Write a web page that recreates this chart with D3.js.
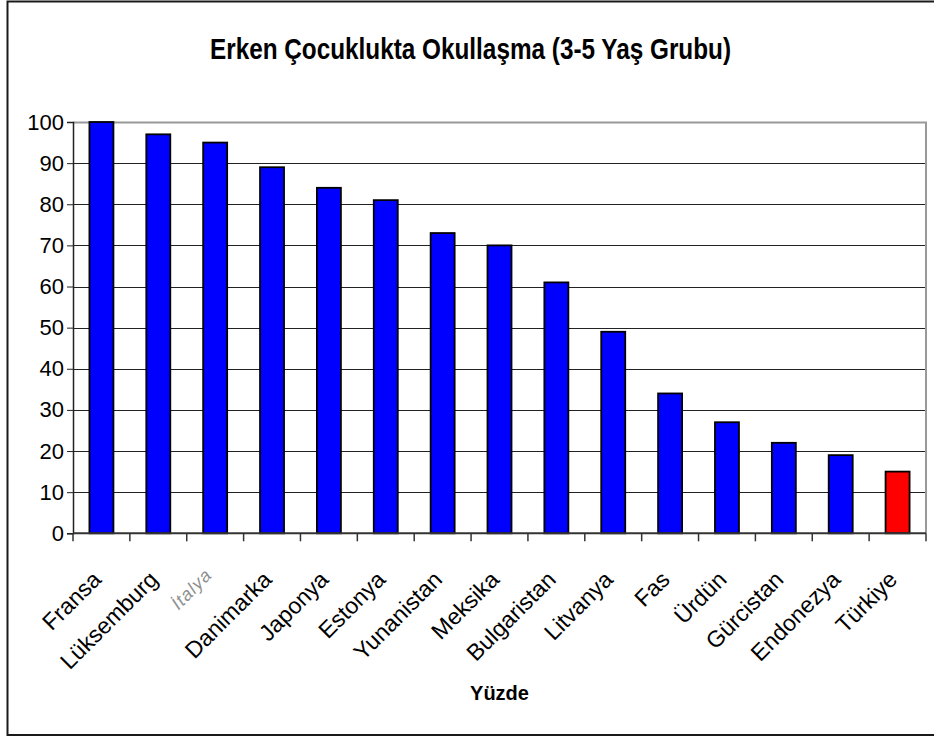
<!DOCTYPE html>
<html>
<head>
<meta charset="utf-8">
<script src="https://cdn.jsdelivr.net/npm/d3@7"></script>
<style>
  html, body { margin: 0; padding: 0; background: #fff; }
  svg { display: block; font-family: "Liberation Sans", Arial, sans-serif; }
</style>
</head>
<body>
<main><div id="svg-container"></div></main>
<script>
/** Chart data */
const countries = ["Fransa", "Lüksemburg", "İtalya", "Danimarka", "Japonya", "Estonya", "Yunanistan",
  "Meksika", "Bulgaristan", "Litvanya", "Fas", "Ürdün", "Gürcistan", "Endonezya", "Türkiye"];
const enrolment = [100, 97, 95, 89, 84, 81, 73, 70, 61, 49, 34, 27, 22, 19, 15];
const yTicks = [0, 10, 20, 30, 40, 50, 60, 70, 80, 90, 100];
const highlight = "Türkiye";
const titleText = "Erken Çocuklukta Okullaşma (3-5 Yaş Grubu)";
const xTitleText = "Yüzde";

const data = countries.map((c, i) => ({ country: c, value: enrolment[i] }));

/** Set properties for the svg element */
const svgProps = {};
svgProps.outerWidth = 934;
svgProps.outerHeight = 737;
svgProps.plot = { left: 73, right: 926, top: 122, bottom: 533.3 };

const svg = d3.select("main div#svg-container")
  .append("svg")
  .attr("width", svgProps.outerWidth)
  .attr("height", svgProps.outerHeight)
;

// outer frame (right edge runs off the picture)
svg.append("rect")
  .attr("x", 7.5)
  .attr("y", 1.5)
  .attr("width", 940)
  .attr("height", 733.5)
  .attr("fill", "#fff")
  .attr("stroke", "#1a1a1a")
  .attr("stroke-width", 2)
;

/** Scales */
const xScale = d3.scaleBand()
  .domain(countries)
  .range([svgProps.plot.left, svgProps.plot.right])
  .paddingInner(0.578)
  .paddingOuter(0.289)
;

const tickBand = d3.scaleBand()
  .domain(countries)
  .range([svgProps.plot.left, svgProps.plot.right])
;

const yScale = d3.scaleLinear()
  .domain([0, 100])
  .range([svgProps.plot.bottom, svgProps.plot.top])
;

/** Gridlines */
svg.append("g")
  .attr("id", "grid")
  .selectAll("line")
  .data(yTicks.filter(d => d > 0 && d < 100))
  .enter()
  .append("line")
  .attr("x1", svgProps.plot.left)
  .attr("x2", svgProps.plot.right)
  .attr("y1", d => Math.round(yScale(d)) + 0.5)
  .attr("y2", d => Math.round(yScale(d)) + 0.5)
  .attr("stroke", "#222")
  .attr("stroke-width", 1)
;

// plot area border top + right (grey)
svg.append("path")
  .attr("d", "M" + svgProps.plot.left + "," + (Math.round(yScale(100)) + 0.5)
    + "H" + svgProps.plot.right + "V" + svgProps.plot.bottom)
  .attr("fill", "none")
  .attr("stroke", "#999")
  .attr("stroke-width", 2)
;

/** Bars */
svg.append("g")
  .attr("id", "bars")
  .selectAll("rect")
  .data(data)
  .enter()
  .append("rect")
  .attr("x", d => xScale(d.country))
  .attr("y", d => yScale(d.value))
  .attr("width", xScale.bandwidth())
  .attr("height", d => yScale(0) - yScale(d.value))
  .attr("fill", d => d.country === highlight ? "#ff0000" : "#0000ff")
  .attr("stroke", "#000")
  .attr("stroke-width", 1.8)
;

/** Y axis */
const yAxis = d3.axisLeft(yScale)
  .tickValues(yTicks)
  .tickSize(6)
  .tickPadding(3)
;

svg.append("g")
  .attr("id", "y-axis")
  .attr("transform", "translate(" + svgProps.plot.left + ",0)")
  .call(yAxis)
  .call(g => g.select(".domain").attr("stroke", "#222").attr("stroke-width", 1.5))
  .call(g => g.selectAll(".tick line").attr("stroke", "#222"))
  .call(g => g.selectAll(".tick text")
    .attr("font-size", 22)
    .attr("font-family", "Liberation Sans, Arial, sans-serif")
    .attr("fill", "#000"))
;

/** X axis: ticks on the band edges, labels rotated */
const xAxisG = svg.append("g")
  .attr("id", "x-axis")
;

xAxisG.append("line")
  .attr("x1", svgProps.plot.left)
  .attr("x2", svgProps.plot.right)
  .attr("y1", svgProps.plot.bottom)
  .attr("y2", svgProps.plot.bottom)
  .attr("stroke", "#333")
  .attr("stroke-width", 2)
;

xAxisG.selectAll("line.tick")
  .data(countries.map(c => tickBand(c)).concat([svgProps.plot.right]))
  .enter()
  .append("line")
  .attr("class", "tick")
  .attr("x1", d => d)
  .attr("x2", d => d)
  .attr("y1", svgProps.plot.bottom)
  .attr("y2", svgProps.plot.bottom + 8)
  .attr("stroke", "#333")
  .attr("stroke-width", 1.5)
;

xAxisG.selectAll("text")
  .data(countries)
  .enter()
  .append("text")
  .attr("transform", d => {
    let cx = xScale(d) + xScale.bandwidth() / 2;
    return d === "İtalya"
      ? "translate(" + (cx - 2) + "," + 576 + ") rotate(-45)"
      : "translate(" + (cx + 1) + "," + 581 + ") rotate(-45)";
  })
  .attr("text-anchor", "end")
  .attr("font-size", d => d === "İtalya" ? 18 : 23)
  .attr("font-style", d => d === "İtalya" ? "italic" : "normal")
  .attr("letter-spacing", d => d === "İtalya" ? 1 : 0)
  .attr("fill", d => d === "İtalya" ? "#909090" : "#000")
  .text(d => d)
;

/** Titles */
svg.append("text")
  .attr("id", "title")
  .attr("x", 470.5)
  .attr("y", 59)
  .attr("text-anchor", "middle")
  .attr("font-size", 30)
  .attr("font-weight", "bold")
  .attr("textLength", 521)
  .attr("lengthAdjust", "spacingAndGlyphs")
  .text(titleText)
;

svg.append("text")
  .attr("id", "x-title")
  .attr("x", 499.5)
  .attr("y", 700)
  .attr("text-anchor", "middle")
  .attr("font-size", 20)
  .attr("font-weight", "bold")
  .text(xTitleText)
;
</script>
</body>
</html>
